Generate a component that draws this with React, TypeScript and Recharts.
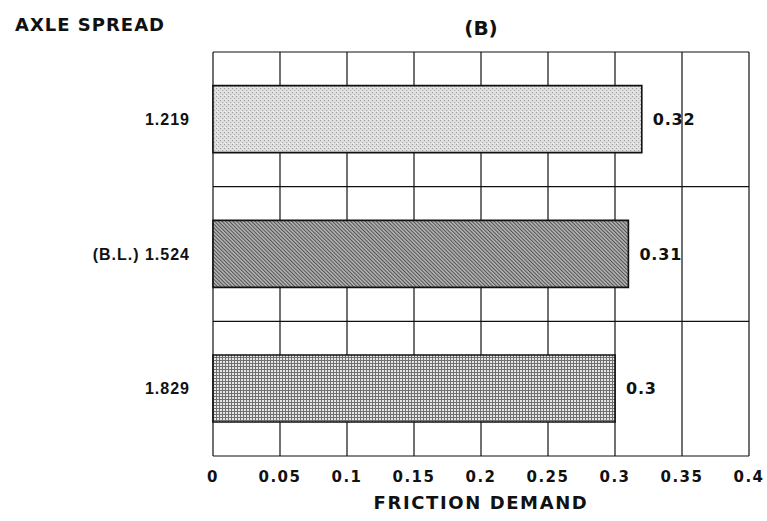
import { BarChart, Bar, XAxis, YAxis, CartesianGrid, LabelList, Cell } from "recharts";

// ─── data ────────────────────────────────────────────────────────────────────
const spreads  = ["1.219", "(B.L.) 1.524", "1.829"];
const friction = [0.32, 0.31, 0.3];
const xTicks   = [0, 0.05, 0.1, 0.15, 0.2, 0.25, 0.3, 0.35, 0.4];
const fills    = ["url(#stipple)", "url(#hatch)", "url(#mesh)"];

const data = spreads.map((s, i) => ({ spread: s, value: friction[i] }));

const FONT   = "'DejaVu Sans', Verdana, sans-serif";
const NARROW = "'Liberation Sans', Arial, sans-serif";
const INK    = "#111";

// horizontal grid = band edges of the category axis (plus top/bottom of plot)
const bandEdges = ({ yAxis, offset }: any) => {
  const top = offset.top;
  const h   = offset.height;
  const raw = yAxis?.scale;
  const fn  = typeof raw === "function" ? raw : typeof raw?.map === "function" ? (v: string) => raw.map(v) : null;
  const edges = [top, top + h];
  spreads.slice(1).forEach((s, i) => {
    const y = fn ? fn(s) : undefined;
    edges.push(typeof y === "number" && !isNaN(y) ? y : top + (h * (i + 1)) / spreads.length);
  });
  return edges;
};

export default function App() {
  return (
    <div style={{ position: "fixed", left: 0, top: 0, background: "#fff" }}>
      <BarChart
        width={767}
        height={521}
        data={data}
        layout="vertical"
        barCategoryGap="25%"
        margin={{ top: 52, right: 18, bottom: 0, left: 0 }}
      >
        <defs>
          <pattern id="stipple" width="4" height="4" patternUnits="userSpaceOnUse">
            <rect width="4" height="4" fill="#dedede" />
            <rect x="0" y="0" width="1" height="1" fill="#999" />
            <rect x="2" y="2" width="1" height="1" fill="#a6a6a6" />
            <rect x="1" y="3" width="1" height="1" fill="#f4f4f4" />
          </pattern>
          <pattern id="hatch" width="2.6" height="2.6" patternUnits="userSpaceOnUse" patternTransform="rotate(-45)">
            <rect width="2.6" height="2.6" fill="#b4b4b4" />
            <rect width="1" height="2.6" fill="#505050" />
          </pattern>
          <pattern id="mesh" width="3" height="3" patternUnits="userSpaceOnUse">
            <rect width="3" height="3" fill="#e6e6e6" />
            <rect width="3" height="1" fill="#707070" />
            <rect width="1" height="3" fill="#707070" />
          </pattern>
        </defs>

        <CartesianGrid
          stroke={INK}
          strokeWidth={1.2}
          horizontalCoordinatesGenerator={bandEdges}
        />
        <XAxis
          type="number"
          domain={[0, 0.4]}
          ticks={xTicks}
          tickFormatter={(v: number) => String(v)}
          axisLine={false}
          tickLine={false}
          tickSize={0}
          tickMargin={15}
          height={65}
          tick={{ fill: INK, fontSize: 15, fontFamily: FONT, fontWeight: 700, letterSpacing: 1.5 }}
          label={{
            value: "FRICTION DEMAND", position: "insideBottom", offset: 12,
            style: { fill: INK, fontSize: 18, fontFamily: FONT, fontWeight: 700, letterSpacing: 1.6 },
          }}
        />
        <YAxis
          type="category"
          dataKey="spread"
          width={213}
          axisLine={false}
          tickLine={false}
          tickSize={0}
          tickMargin={23}
          tick={{ fill: INK, fontSize: 16, fontFamily: NARROW, fontWeight: 700, letterSpacing: 1 }}
        />
        <Bar dataKey="value" stroke={INK} strokeWidth={1.6} isAnimationActive={false}>
          {data.map((_, i) => (
            <Cell key={i} fill={fills[i]} />
          ))}
          <LabelList
            dataKey="value"
            position="right"
            offset={11}
            style={{ fill: INK, fontSize: 16, fontFamily: FONT, fontWeight: 700, letterSpacing: 0.8 }}
          />
        </Bar>

        <text x={15} y={31} fill={INK} fontSize={18} fontFamily={FONT} fontWeight={700} letterSpacing={1}>
          AXLE SPREAD
        </text>
        <text x={481} y={35} textAnchor="middle" fill={INK} fontSize={20} fontFamily={FONT} fontWeight={700}>
          (B)
        </text>
      </BarChart>
    </div>
  );
}
